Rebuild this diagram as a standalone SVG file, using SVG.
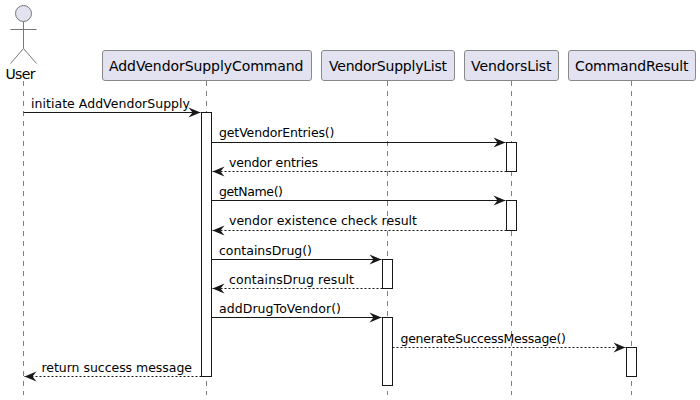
<svg xmlns="http://www.w3.org/2000/svg" width="700" height="400" viewBox="0 0 700 400">
<style>
text{font-family:"DejaVu Sans","Liberation Sans",sans-serif;fill:#000}
.n{font-size:14px}
.m{font-size:12.5px}
.life{stroke:#808080;stroke-width:1;stroke-dasharray:5 5;fill:none}
.box{fill:#E2E2F0;stroke:#888;stroke-width:1}
.act{fill:#fff;stroke:#181818;stroke-width:1}
.actor{stroke:#777;stroke-width:1;fill:none}
.s{stroke:#181818;stroke-width:1;fill:none;marker-end:url(#a)}
.d{stroke:#181818;stroke-width:1;stroke-dasharray:2 2;fill:none;marker-end:url(#a)}
</style>
<defs>
<marker id="a" markerUnits="userSpaceOnUse" markerWidth="14" markerHeight="12" refX="12.5" refY="6" orient="auto">
<path d="M0.5 1L12.5 6L0.5 11L4.5 6Z" fill="#181818"/>
</marker>
</defs>
<rect width="700" height="400" fill="#fff"/>
<g id="user">
<line class="life" x1="23.5" y1="81" x2="23.5" y2="395"/>
<circle cx="23.5" cy="13.5" r="8" fill="#E2E2F0" stroke="#777"/>
<path class="actor" d="M23.5 21.5V48.5M10.5 29.5H36.5M10.5 63.5L23.5 48.5L36.5 63.5"/>
<text class="n" x="5.5" y="79" textLength="30" lengthAdjust="spacing">User</text>
</g>
<g id="addVendorSupplyCommand">
<line class="life" x1="206.5" y1="81" x2="206.5" y2="395"/>
<rect class="box" x="102.5" y="50.5" width="209" height="30" rx="2.5"/>
<text class="n" x="109" y="71" textLength="194.5" lengthAdjust="spacing">AddVendorSupplyCommand</text>
<rect class="act" x="201.5" y="112.5" width="10" height="264"/>
</g>
<g id="vendorSupplyList">
<line class="life" x1="387.5" y1="81" x2="387.5" y2="395"/>
<rect class="box" x="321.5" y="50.5" width="133" height="30" rx="2.5"/>
<text class="n" x="329" y="71" textLength="118" lengthAdjust="spacing">VendorSupplyList</text>
<rect class="act" x="382.5" y="259.5" width="10" height="29"/>
<rect class="act" x="382.5" y="317.5" width="10" height="68"/>
</g>
<g id="vendorsList">
<line class="life" x1="511.5" y1="81" x2="511.5" y2="395"/>
<rect class="box" x="464.5" y="50.5" width="94" height="30" rx="2.5"/>
<text class="n" x="471" y="71" textLength="80.5" lengthAdjust="spacing">VendorsList</text>
<rect class="act" x="506.5" y="142.5" width="10" height="29"/>
<rect class="act" x="506.5" y="200.5" width="10" height="30"/>
</g>
<g id="commandResult">
<line class="life" x1="631.5" y1="81" x2="631.5" y2="395"/>
<rect class="box" x="568.5" y="50.5" width="127" height="30" rx="2.5"/>
<text class="n" x="575" y="71" textLength="113.5" lengthAdjust="spacing">CommandResult</text>
<rect class="act" x="626.5" y="347.5" width="10" height="29"/>
</g>
<g id="connectors">
<line class="s" x1="23.5" y1="112.5" x2="200.5" y2="112.5"/>
<text class="m" x="31" y="107.5" textLength="159" lengthAdjust="spacing">initiate AddVendorSupply</text>
<line class="s" x1="211.5" y1="142.5" x2="505.5" y2="142.5"/>
<text class="m" x="219" y="137" textLength="115.5" lengthAdjust="spacing">getVendorEntries()</text>
<line class="d" x1="506.5" y1="171.5" x2="212.5" y2="171.5"/>
<text class="m" x="229" y="166.5" textLength="89" lengthAdjust="spacing">vendor entries</text>
<line class="s" x1="211.5" y1="200.5" x2="505.5" y2="200.5"/>
<text class="m" x="219" y="195.5" textLength="64" lengthAdjust="spacing">getName()</text>
<line class="d" x1="506.5" y1="230.5" x2="212.5" y2="230.5"/>
<text class="m" x="229" y="225" textLength="188" lengthAdjust="spacing">vendor existence check result</text>
<line class="s" x1="211.5" y1="259.5" x2="381.5" y2="259.5"/>
<text class="m" x="219" y="254.5" textLength="93" lengthAdjust="spacing">containsDrug()</text>
<line class="d" x1="382.5" y1="288.5" x2="212.5" y2="288.5"/>
<text class="m" x="229" y="283.5" textLength="125" lengthAdjust="spacing">containsDrug result</text>
<line class="s" x1="211.5" y1="317.5" x2="381.5" y2="317.5"/>
<text class="m" x="219" y="312.5" textLength="122" lengthAdjust="spacing">addDrugToVendor()</text>
<line class="d" x1="392.5" y1="347.5" x2="625.5" y2="347.5"/>
<text class="m" x="400.5" y="342.5" textLength="165.5" lengthAdjust="spacing">generateSuccessMessage()</text>
<line class="d" x1="201.5" y1="376.5" x2="24.5" y2="376.5"/>
<text class="m" x="41.5" y="371.5" textLength="150.5" lengthAdjust="spacing">return success message</text>
</g>
</svg>
